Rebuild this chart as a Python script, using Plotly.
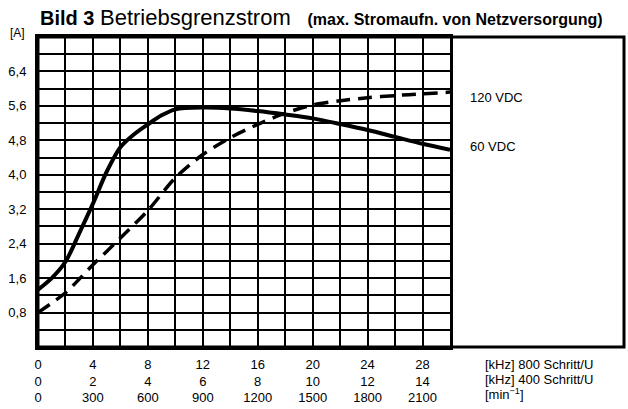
import plotly.graph_objects as go

# frequency at 800 steps/rev [kHz] and current limit [A]
freq_60vdc = [0, 1, 2, 3, 4, 5, 6, 7, 8, 9, 10, 12, 14, 16, 18, 20, 22, 24, 26, 28, 30]
strom_60vdc = [1.33, 1.60, 1.98, 2.64, 3.33, 4.07, 4.64, 4.94, 5.17, 5.38, 5.52, 5.56, 5.54, 5.48,
               5.40, 5.31, 5.18, 5.04, 4.88, 4.72, 4.58]
freq_120vdc = [0, 2, 4, 6, 8, 10, 12, 14, 16, 18, 20, 22, 24, 26, 28, 30]
strom_120vdc = [0.80, 1.26, 1.91, 2.53, 3.17, 3.93, 4.47, 4.86, 5.17, 5.43, 5.62, 5.72, 5.79, 5.84, 5.88, 5.92]

ticks_800 = [0, 4, 8, 12, 16, 20, 24, 28]
ticks_400 = [0, 2, 4, 6, 8, 10, 12, 14]
ticks_rpm = [0, 300, 600, 900, 1200, 1500, 1800, 2100]
y_ticks = [0.8, 1.6, 2.4, 3.2, 4.0, 4.8, 5.6, 6.4]

font = 'Liberation Sans, Arial, sans-serif'

fig = go.Figure()
fig.add_trace(go.Scatter(
    x=freq_60vdc, y=strom_60vdc, mode='lines', name='60 VDC',
    line=dict(color='black', width=4, shape='spline', smoothing=0.8),
    showlegend=False
))
fig.add_trace(go.Scatter(
    x=freq_120vdc, y=strom_120vdc, mode='lines', name='120 VDC',
    line=dict(color='black', width=3.5, dash='14px,8px', shape='spline', smoothing=0.8),
    showlegend=False
))

x_text = ['%d<br>%d<br>%d' % (a, b, c) for a, b, c in zip(ticks_800, ticks_400, ticks_rpm)]
y_text = [('%.1f' % v).replace('.', ',') for v in y_ticks]

fig.update_layout(
    width=628,
    height=409,
    margin=dict(l=38, r=4, t=37, b=62, autoexpand=False),
    plot_bgcolor='white',
    paper_bgcolor='white',
    font=dict(family=font, size=13, color='black'),
    title=dict(
        text='<b>Bild 3</b> <span style="font-size:22px">Betriebsgrenzstrom</span>   '
             '<span style="font-size:16px"><b>(max. Stromaufn. von Netzversorgung)</b></span>',
        x=40 / 628, xanchor='left', xref='container',
        y=1 - 18 / 409, yanchor='middle', yref='container',
        font=dict(family=font, size=20, color='black'),
        automargin=False
    ),
    xaxis=dict(
        domain=[0, 412 / 586],
        range=[0, 30],
        tickmode='array', tickvals=ticks_800, ticktext=x_text,
        showgrid=True, gridcolor='black', gridwidth=2,
        minor=dict(dtick=2, tick0=0, showgrid=True, gridcolor='black', gridwidth=2),
        showline=True, linecolor='black', linewidth=3, mirror=True,
        ticks='', zeroline=False, automargin=False, ticklabelstandoff=3,
        tickfont=dict(size=13)
    ),
    yaxis=dict(
        range=[0, 7.2],
        tickmode='array', tickvals=y_ticks, ticktext=y_text,
        showgrid=True, gridcolor='black', gridwidth=2,
        minor=dict(dtick=0.4, tick0=0, showgrid=True, gridcolor='black', gridwidth=2),
        showline=True, linecolor='black', linewidth=3, mirror=True,
        ticks='', zeroline=False, ticklabelstandoff=6, automargin=False,
        tickfont=dict(size=13)
    ),
)

# outer frame incl. empty right box
fig.add_shape(type='rect', xref='paper', yref='paper', x0=0, x1=1, y0=0, y1=1,
              line=dict(color='black', width=3))

fig.add_annotation(text='120 VDC', xref='paper', yref='y', x=(468 - 38) / 586, y=5.8,
                   xanchor='left', yanchor='middle', showarrow=False, font=dict(size=13))
fig.add_annotation(text='60 VDC', xref='paper', yref='y', x=(468 - 38) / 586, y=4.65,
                   xanchor='left', yanchor='middle', showarrow=False, font=dict(size=13))
fig.add_annotation(text='[A]', xref='paper', yref='paper', x=(17 - 38) / 586, y=(347 - 33) / 310,
                   xanchor='center', yanchor='middle', showarrow=False, font=dict(size=12))

units = ['[kHz] 800 Schritt/U', '[kHz] 400 Schritt/U', '[min<sup>\u22121</sup>]']
for i, u in enumerate(units):
    fig.add_annotation(text=u, xref='paper', yref='paper', x=(483 - 38) / 586,
                       y=(347 - (364 + 15 * i)) / 310, xanchor='left', yanchor='middle',
                       showarrow=False, font=dict(size=13))

# drop the default body margin so the 628x409 figure fills the window
fig.write_html('out.html', config={'displayModeBar': False},
               post_script="document.body.style.margin='0';")
